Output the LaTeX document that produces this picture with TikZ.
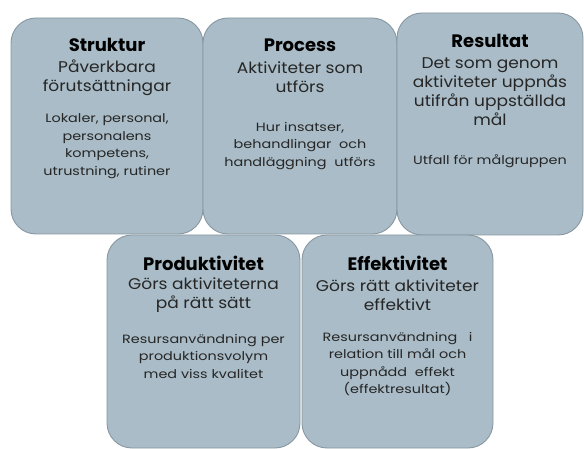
\documentclass[tikz,border=0pt]{standalone}
\usepackage{fontspec}
\setmainfont{Poppins}
\newfontfamily\subfont[FakeStretch=1.1]{Poppins}
\newfontfamily\detailfont[FakeStretch=1.2]{Poppins}
\begin{document}
\begin{tikzpicture}[x=1pt,y=-1pt,
  box/.style={draw=boxline, fill=boxfill, line width=0.9pt, rounded corners=25pt,
              inner sep=0pt, outer sep=0pt},
  title/.style={font=\fontsize{18}{20}\selectfont\bfseries, text=black, inner sep=0pt},
  sub/.style={font=\subfont\fontsize{15.5}{19}\selectfont, text=textgray, align=center, inner sep=0pt},
  detail/.style={font=\detailfont\fontsize{12}{17.5}\selectfont, text=textgray, align=center, inner sep=0pt}]
\definecolor{boxfill}{HTML}{A9BCC7}
\definecolor{boxline}{HTML}{8797A1}
\definecolor{textgray}{HTML}{262626}
\useasboundingbox (0,0) rectangle (584,449);

% upper row
\node[box, minimum width=192pt, minimum height=216pt] (struktur) at (107,126) {};
\node[box, minimum width=194pt, minimum height=216pt] (process) at (300,126) {};
\node[box, minimum width=186pt, minimum height=222pt] (resultat) at (490,124) {};
% lower row
\node[box, minimum width=193pt, minimum height=213pt] (produktivitet) at (203.5,341.5) {};
\node[box, minimum width=191pt, minimum height=213pt] (effektivitet) at (397.5,341.5) {};

% Struktur
\node[title] (strukturT) at (107,45) {Struktur};
\node[sub] (strukturS) at (107,78) {Påverkbara\\förutsättningar};
\node[detail] (strukturD) at (107,146) {Lokaler, personal,\\personalens\\kompetens,\\utrustning, rutiner};

% Process
\node[title] (processT) at (300,45) {Process};
\node[sub] (processS) at (300,77) {Aktiviteter som\\utförs};
\node[detail] (processD) at (300,146) {Hur insatser,\\behandlingar \ och\\handläggning \ utförs};

% Resultat
\node[title] (resultatT) at (490,41) {Resultat};
\node[sub] (resultatS) at (490,92) {Det som genom\\aktiviteter uppnås\\utifrån uppställda\\mål};
\node[detail] (resultatD) at (490,161) {Utfall för målgruppen};

% Produktivitet
\node[title] (produktivitetT) at (203.5,263) {Produktivitet};
\node[sub] (produktivitetS) at (203.5,295) {Görs aktiviteterna\\på rätt sätt};
\node[detail] (produktivitetD) at (203.5,356) {Resursanvändning per\\produktionsvolym\\med viss kvalitet};

% Effektivitet
\node[title] (effektivitetT) at (397.5,263) {Effektivitet};
\node[sub] (effektivitetS) at (397.5,295) {Görs rätt aktiviteter\\effektivt};
\node[detail] (effektivitetD) at (397.5,364) {Resursanvändning \ \ i\\relation till mål och\\uppnådd \ effekt\\(effektresultat)};
\end{tikzpicture}
\end{document}
